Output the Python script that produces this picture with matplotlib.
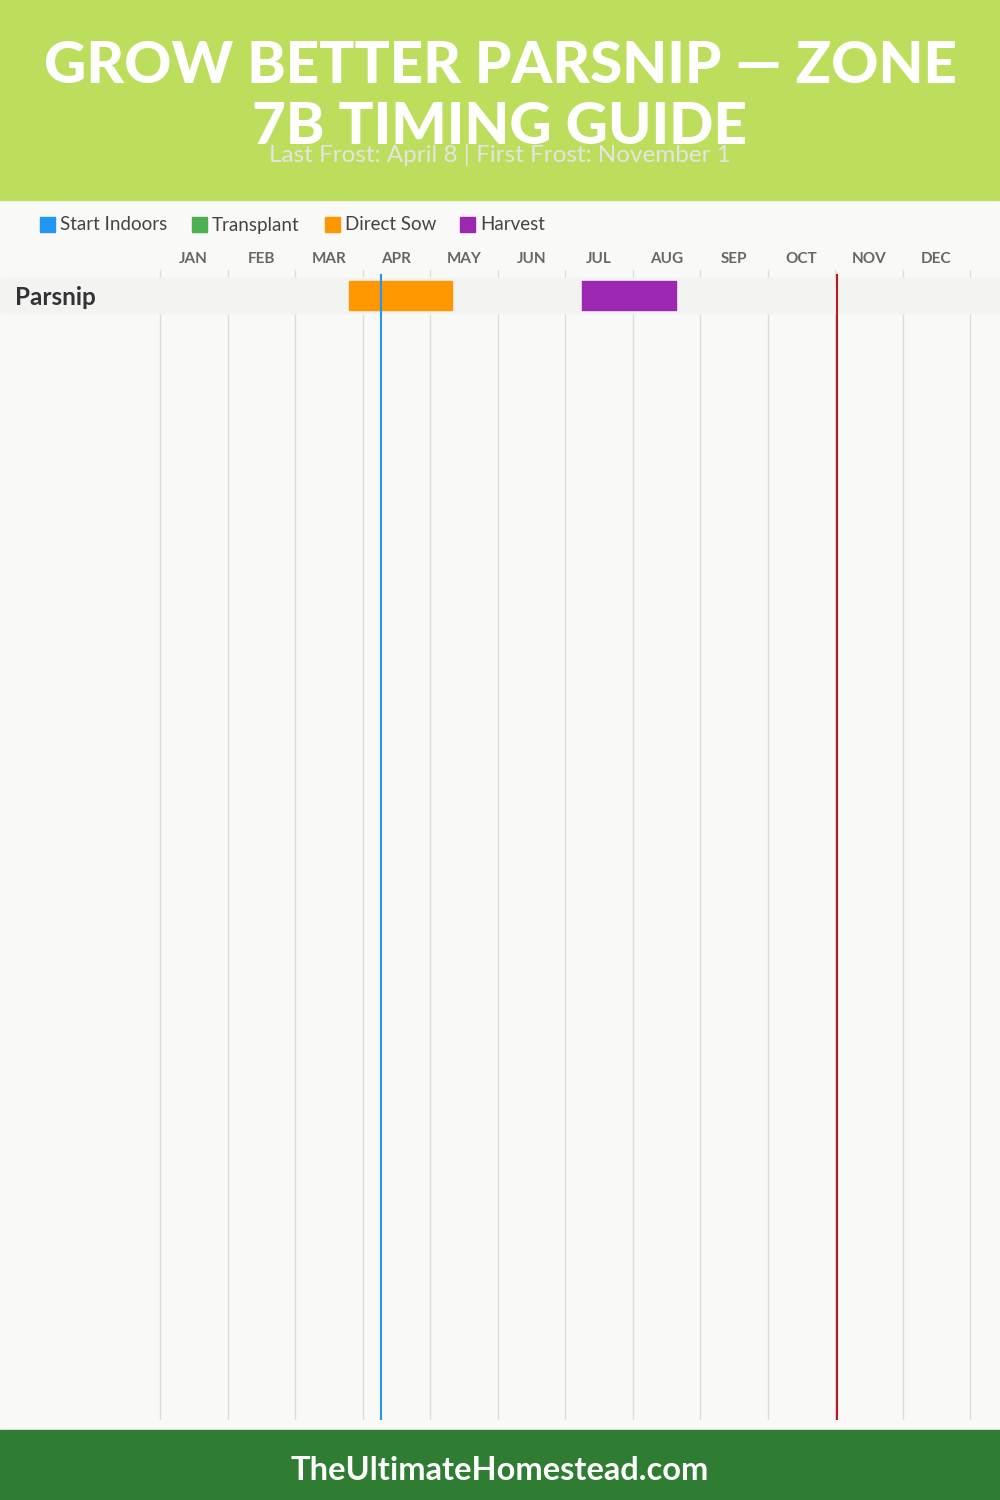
import matplotlib
matplotlib.use("Agg")
import matplotlib.pyplot as plt
from matplotlib.patches import Rectangle
from matplotlib.transforms import blended_transform_factory

plt.rcParams['font.family'] = ['Lato', 'DejaVu Sans']

title = "GROW BETTER PARSNIP — ZONE\n7B TIMING GUIDE"
subtitle = "Last Frost: April 8 | First Frost: November 1"
footer = "TheUltimateHomestead.com"

months = ['JAN', 'FEB', 'MAR', 'APR', 'MAY', 'JUN', 'JUL', 'AUG', 'SEP', 'OCT', 'NOV', 'DEC']
days_in_month = [31, 28, 31, 30, 31, 30, 31, 31, 30, 31, 30, 31]

legend_names = ['Start Indoors', 'Transplant', 'Direct Sow', 'Harvest']
legend_colors = ['#2196F3', '#4CAF50', '#FF9800', '#9C27B0']

crops = ['Parsnip']
# (crop, stage, start (month, day), end (month, day))
tasks = [
    ('Parsnip', 'Direct Sow', (3, 25), (5, 10)),
    ('Parsnip', 'Harvest', (7, 8), (8, 20)),
]
last_frost = (4, 8)
first_frost = (11, 1)


def pos(md):
    m, d = md
    return (m - 1) + d / days_in_month[m - 1]


W, H = 1000, 1500
fig = plt.figure(figsize=(10, 15), dpi=100, facecolor='#F9F9F8')

# header / footer bands
fig.patches.append(Rectangle((0, 1 - 200 / H), 1, 200 / H, transform=fig.transFigure,
                             color='#BDDE5C', zorder=0))
fig.patches.append(Rectangle((0, 0), 1, 70 / H, transform=fig.transFigure,
                             color='#2E7D32', zorder=0))
fig.text(0.5, 1 - 97 / H, title, ha='center', va='center', color='white',
         fontsize=42, fontweight='black', linespacing=1.2)
fig.text(0.5, 1 - 155 / H, subtitle, ha='center', va='center', color='#E4E4E4', fontsize=17.5)
fig.text(0.5, 1 - 1471 / H, footer, ha='center', va='center', color='white',
         fontsize=23.5, fontweight='bold')

# legend
lx = [40, 192, 325, 460]
for x, name, c in zip(lx, legend_names, legend_colors):
    fig.patches.append(Rectangle((x / W, 1 - 232 / H), 15 / W, 15 / H,
                                 transform=fig.transFigure, color=c))
    fig.text((x + 20) / W, 1 - 225 / H, name, ha='left', va='center',
             color='#444444', fontsize=13.5)

# chart axes (pixel frame 0..1000 x 270..1420)
top_px, bot_px = 270, 1420
ax = fig.add_axes([0, 1 - bot_px / H, 1, (bot_px - top_px) / H])
ax.set_facecolor('none')
px_per_month = 810 / 12
ax.set_xlim(-160 / px_per_month, (W - 160) / px_per_month)
row_px = 35
n_units = (bot_px - top_px) / row_px
off = (295.5 - top_px) / row_px
ax.set_ylim(n_units - off, -off)
for s in ax.spines.values():
    s.set_visible(False)

for i in range(13):
    ax.axvline(i, color='#DDDDDD', lw=1, zorder=0)

ax.xaxis.tick_top()
ax.set_xticks([i + 0.5 for i in range(12)])
ax.set_xticklabels(months, fontsize=11, fontweight='bold', color='#666666')
ax.tick_params(axis='x', length=0, pad=3)
ax.set_yticks([])

tr = blended_transform_factory(fig.transFigure, ax.transData)
for r, crop in enumerate(crops):
    ax.axhspan(r - 0.5, r + 0.5, color='#F3F3F2', zorder=1)
    ax.text(15 / W, r + 0.05, crop, transform=tr, ha='left', va='center',
            fontsize=17.5, fontweight='bold', color='#333333')

color_of = dict(zip(legend_names, legend_colors))
for crop, stage, s, e in tasks:
    r = crops.index(crop)
    x0, x1 = pos(s), pos(e)
    ax.barh(r, x1 - x0, left=x0, height=0.82, color=color_of[stage],
            edgecolor=color_of[stage], linewidth=1, joinstyle='round', zorder=2)

ymax = 1 - 5 / (bot_px - top_px)
ax.axvline(pos(last_frost), ymin=0, ymax=ymax, color='#2196F3', lw=1.5, zorder=3)
ax.axvline(pos(first_frost), ymin=0, ymax=ymax, color='#B71C1C', lw=1.5, zorder=3)

fig.savefig('out.png', dpi=100, facecolor=fig.get_facecolor())
